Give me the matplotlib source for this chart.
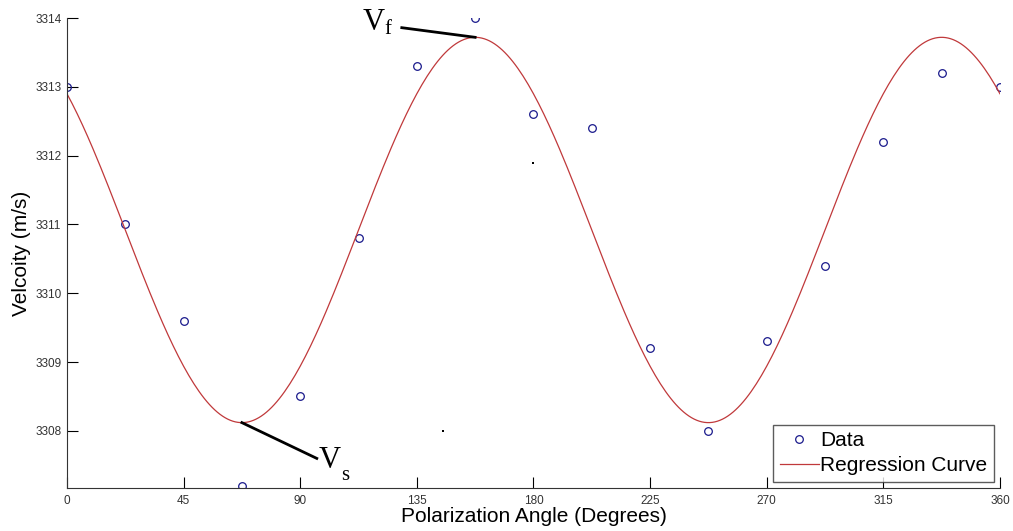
import numpy as np
import matplotlib.pyplot as plt

plt.rcParams['font.family'] = ['Liberation Sans', 'DejaVu Sans']

# measured velocities
angle = np.arange(0, 361, 22.5)
velocity = [3313.0, 3311.0, 3309.6, 3307.2, 3308.5, 3310.8, 3313.3, 3314.0, 3312.6,
            3312.4, 3309.2, 3308.0, 3309.3, 3310.4, 3312.2, 3313.2, 3313.0]

# fitted sinusoid v = v0 + A*cos(2*(theta - phi))
v0 = 3310.92
amp = 2.8
phi = 157.5

# stray dots
dots_x = [180, 145]
dots_y = [3311.9, 3308.0]

theta = np.arange(0, 361, 1.0)
fit = v0 + amp * np.cos(np.radians(2 * (theta - phi)))

fig = plt.figure(figsize=(10.13, 5.31), dpi=100)
ax = fig.add_axes([0.0661, 0.081, 0.921, 0.885])

ax.plot(angle, velocity, 'o', mfc='none', mec='#1a1a8c', ms=5.5, mew=0.9, label='Data')
ax.plot(theta, fit, '-', color='#c0393b', lw=0.9, label='Regression Curve')
ax.plot(dots_x, dots_y, 's', color='black', ms=1.5, mew=0)

# fast / slow annotations
tf = phi
vf = v0 + amp
ts = phi - 90
vs = v0 - amp
serif = 'Liberation Serif'
ax.plot([tf, 129.2], [vf, 3313.86], color='black', lw=2)
ax.text(114.0, 3313.73, 'V', fontsize=22, family=serif, va='bottom')
ax.text(122.3, 3313.70, 'f', fontsize=15, family=serif, va='bottom')
ax.plot([ts, 96.4], [vs, 3307.6], color='black', lw=2)
ax.text(97.2, 3307.36, 'V', fontsize=22, family=serif, va='bottom')
ax.text(105.6, 3307.22, 's', fontsize=15, family=serif, va='bottom')

ax.set_xlim(0, 360)
ax.set_ylim(3307.17, 3314)
ax.set_xticks(np.arange(0, 361, 45))
ax.set_yticks(np.arange(3308, 3315, 1))
ax.tick_params(direction='in', length=8, width=0.8, labelsize=8.5, labelcolor='#333333')
ax.tick_params(axis='y', pad=4)
ax.tick_params(axis='x', pad=5)
for s in ['top', 'right']:
    ax.spines[s].set_visible(False)
for s in ['left', 'bottom']:
    ax.spines[s].set_color('#333333')

ax.set_xlabel('Polarization Angle (Degrees)', fontsize=15, labelpad=0)
ax.set_ylabel('Velcoity (m/s)', fontsize=15, labelpad=3)

leg = ax.legend(loc='lower right', fontsize=15, frameon=True, fancybox=False,
                borderpad=0.3, handlelength=1.9, handletextpad=0.05, borderaxespad=0.3,
                labelspacing=0.3)
leg.get_frame().set_edgecolor('#333333')
leg.get_frame().set_linewidth(1)

fig.savefig('out.png', dpi=100)
